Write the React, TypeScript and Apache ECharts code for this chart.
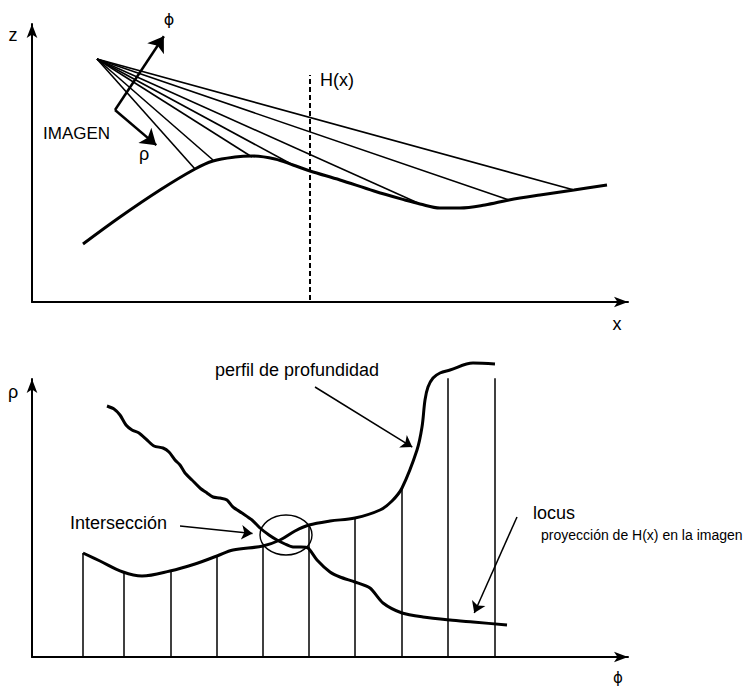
import React, { useEffect, useRef } from "react";
import * as echarts from "echarts";

// ---------- Top panel (x, z) ----------
const terrainProfile: number[][] = [
  [51, 58], [88, 85], [128, 112], [163, 133], [181, 141], [203, 145], [220, 146],
  [243, 143], [261, 137], [278, 131], [308, 122], [342, 111], [373, 102], [388, 98],
  [408, 94], [428, 94], [453, 97], [477, 102], [508, 107], [542, 112], [575, 117],
];
const cameraPoint: number[] = [65, 243];
const rayTargets: number[][] = [
  [163, 133], [181, 142], [220, 145], [261, 137], [386, 99], [477, 102], [542, 112],
];
const hLine: number[][] = [[278, 2], [278, 227]];
const imageCorner: number[] = [83, 192];
const phiTip: number[] = [136, 272];
const rhoTip: number[] = [130, 152];

// ---------- Bottom panel (phi, rho) ----------
const depthProfile: number[][] = [
  [51, 104], [68, 96], [91, 85], [110, 81], [138, 86], [163, 93], [185, 101], [201, 107],
  [231, 111], [248, 117], [263, 126], [277, 132], [298, 136], [323, 139], [348, 147],
  [360, 156], [370, 169], [385, 207], [390, 230], [393, 257], [396, 270], [401, 279],
  [408, 284], [418, 287], [441, 294], [463, 293],
];
const sampleX: number[] = [51, 92, 139, 185, 231, 277, 323, 370, 416, 463];
const sampleTop: number[] = [104, 85, 86, 101, 111, 132, 139, 169, 287, 289];
const locusCurve: number[][] = [
  [75, 251], [82, 248], [88, 242], [94, 232], [100, 227], [107, 224], [115, 217],
  [122, 211], [131, 209], [137, 205], [143, 197], [148, 192], [153, 184], [160, 177],
  [168, 169], [175, 164], [181, 160], [188, 159], [195, 157], [201, 150], [210, 144],
  [220, 137], [228, 129], [237, 122], [245, 117], [253, 113], [261, 110], [269, 110],
  [276, 109], [285, 97], [298, 85], [308, 80], [323, 75], [338, 69], [351, 54],
  [370, 44], [391, 40], [418, 37], [441, 35], [475, 32],
];
const intersectionEllipse: number[] = [254, 122, 26, 20];
const intersArrow: number[][] = [[148, 131], [226, 123]];
const perfilArrow: number[][] = [[283, 270], [385, 207]];
const locusArrow: number[][] = [[485, 140], [440, 39]];

const FONT = "Liberation Sans, Arial, Helvetica, sans-serif";
const BLACK = "#000";

function arrowLine(from: number[], tip: number[], head: number) {
  const dx = tip[0] - from[0];
  const dy = tip[1] - from[1];
  const len = Math.hypot(dx, dy);
  const k = (len - head / 2) / len;
  return { coords: [from, [from[0] + dx * k, from[1] + dy * k]] };
}

function axisPair(gridIndex: number) {
  const line = {
    show: true,
    onZero: false,
    symbol: ["none", "arrow"],
    symbolSize: [8, 14],
    lineStyle: { color: BLACK, width: 2 },
  };
  const common = {
    type: "value",
    gridIndex,
    min: 0,
    axisLine: line,
    axisTick: { show: false },
    axisLabel: { show: false },
    splitLine: { show: false },
  };
  return {
    x: { ...common, max: 596 },
    y: { ...common, max: 278 },
  };
}

function txt(text: string, x: number, y: number, size: number, align = "left", family = FONT) {
  return {
    type: "text",
    x,
    y,
    silent: true,
    style: {
      text,
      fill: BLACK,
      fontSize: size,
      fontFamily: family,
      align,
      verticalAlign: "middle",
    },
  };
}

export default function App() {
  const ref = useRef<HTMLDivElement>(null);
  useEffect(() => {
    document.body.style.margin = "0";
    const chart = echarts.init(ref.current!, null, { renderer: "svg" });
    const a0 = axisPair(0);
    const a1 = axisPair(1);
    const lineBase = {
      type: "line",
      symbol: "none",
      showSymbol: false,
      clip: false,
      silent: true,
      smooth: 0.35,
    };
    const option: any = {
      animation: false,
      backgroundColor: "#fff",
      grid: [
        { left: 32, top: 24, width: 596, height: 278 },
        { left: 32, top: 379, width: 596, height: 278 },
      ],
      xAxis: [a0.x, a1.x],
      yAxis: [a0.y, a1.y],
      series: [
        {
          ...lineBase,
          name: "terreno",
          xAxisIndex: 0,
          yAxisIndex: 0,
          data: terrainProfile,
          lineStyle: { color: BLACK, width: 3 },
        },
        {
          type: "lines",
          name: "rayos",
          coordinateSystem: "cartesian2d",
          xAxisIndex: 0,
          yAxisIndex: 0,
          silent: true,
          symbol: ["none", "none"],
          lineStyle: { color: BLACK, width: 1.6, opacity: 1 },
          data: rayTargets.map((t) => ({ coords: [cameraPoint, t] })),
        },
        {
          ...lineBase,
          smooth: false,
          name: "H(x)",
          xAxisIndex: 0,
          yAxisIndex: 0,
          data: hLine,
          lineStyle: { color: BLACK, width: 2, type: [5, 3] },
        },
        {
          type: "lines",
          name: "ejes imagen",
          coordinateSystem: "cartesian2d",
          xAxisIndex: 0,
          yAxisIndex: 0,
          silent: true,
          symbol: ["none", "arrow"],
          symbolSize: [8, 15],
          lineStyle: { color: BLACK, width: 2.5, opacity: 1 },
          data: [arrowLine(imageCorner, phiTip, 15), arrowLine(imageCorner, rhoTip, 15)],
        },
        {
          ...lineBase,
          name: "perfil de profundidad",
          xAxisIndex: 1,
          yAxisIndex: 1,
          data: depthProfile,
          lineStyle: { color: BLACK, width: 3 },
        },
        {
          ...lineBase,
          smooth: 0.25,
          name: "locus",
          xAxisIndex: 1,
          yAxisIndex: 1,
          data: locusCurve,
          lineStyle: { color: BLACK, width: 3 },
        },
        {
          type: "lines",
          name: "muestras",
          coordinateSystem: "cartesian2d",
          xAxisIndex: 1,
          yAxisIndex: 1,
          silent: true,
          symbol: ["none", "none"],
          lineStyle: { color: BLACK, width: 1.5, opacity: 1 },
          data: sampleX.map((x, i) => ({ coords: [[x, 0], [x, sampleTop[i]]] })),
        },
        {
          type: "custom",
          name: "intersección",
          xAxisIndex: 1,
          yAxisIndex: 1,
          silent: true,
          clip: false,
          data: [intersectionEllipse],
          renderItem: (_p: any, api: any) => {
            const c = api.coord([api.value(0), api.value(1)]);
            const s = api.size([api.value(2), api.value(3)]);
            return {
              type: "ellipse",
              shape: { cx: c[0], cy: c[1], rx: s[0], ry: s[1] },
              style: { fill: "none", stroke: BLACK, lineWidth: 1.4 },
            };
          },
        },
        {
          type: "lines",
          name: "anotaciones",
          coordinateSystem: "cartesian2d",
          xAxisIndex: 1,
          yAxisIndex: 1,
          silent: true,
          symbol: ["none", "arrow"],
          symbolSize: [6, 11],
          lineStyle: { color: BLACK, width: 1.5, opacity: 1 },
          data: [
            arrowLine(intersArrow[0], intersArrow[1], 11),
            arrowLine(perfilArrow[0], perfilArrow[1], 11),
            arrowLine(locusArrow[0], locusArrow[1], 11),
          ],
        },
      ],
      graphic: [
        txt("z", 13, 35, 18, "center"),
        txt("\u03D5", 169, 19, 16, "center", "DejaVu Sans"),
        txt("ρ", 144, 154, 18, "center"),
        txt("IMAGEN", 43, 133, 17),
        txt("H(x)", 320, 80, 18),
        txt("x", 617, 324, 18, "center"),
        txt("ρ", 13, 392, 18, "center"),
        txt("perfil de profundidad", 215, 370, 18),
        txt("Intersección", 70, 523, 18),
        txt("locus", 533, 513, 18),
        txt("proyección de H(x) en la imagen", 541, 535, 14),
        txt("\u03D5", 618, 678, 15, "center", "DejaVu Sans"),
      ],
    };
    chart.setOption(option);
    return () => chart.dispose();
  }, []);
  return <div ref={ref} style={{ width: 748, height: 689 }} />;
}
